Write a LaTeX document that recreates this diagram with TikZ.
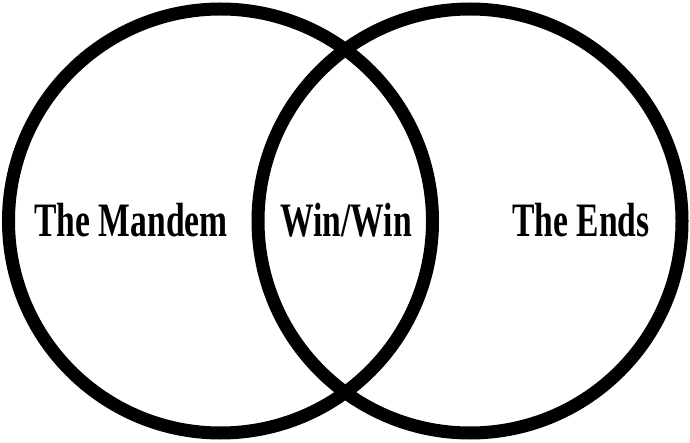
\documentclass[tikz,border=0pt]{standalone}
\usepackage{fontspec}
\usepackage{tikz}
\usetikzlibrary{positioning}
\newfontfamily\condserif[FakeStretch=0.7]{Liberation Serif}

\begin{document}
\begin{tikzpicture}[
x=1pt,y=1pt,
ring/.style={draw=black,circle,line width=13pt,minimum size=424pt,inner sep=0pt},
lbl/.style={font=\condserif\bfseries\fontsize{48}{48}\selectfont,inner sep=0pt}
]
\useasboundingbox (0,0) rectangle (690,442);
\node[ring] (mandem) at (220.5,221) {};
\node[ring] (ends) at (470,221) {};

\node[lbl,anchor=base] (tm) at (131,205) {The Mandem};
\node[lbl,anchor=base] (ww) at (346,205) {Win/Win};
\node[lbl,anchor=base] (te) at (581,205) {The Ends};
\end{tikzpicture}
\end{document}
